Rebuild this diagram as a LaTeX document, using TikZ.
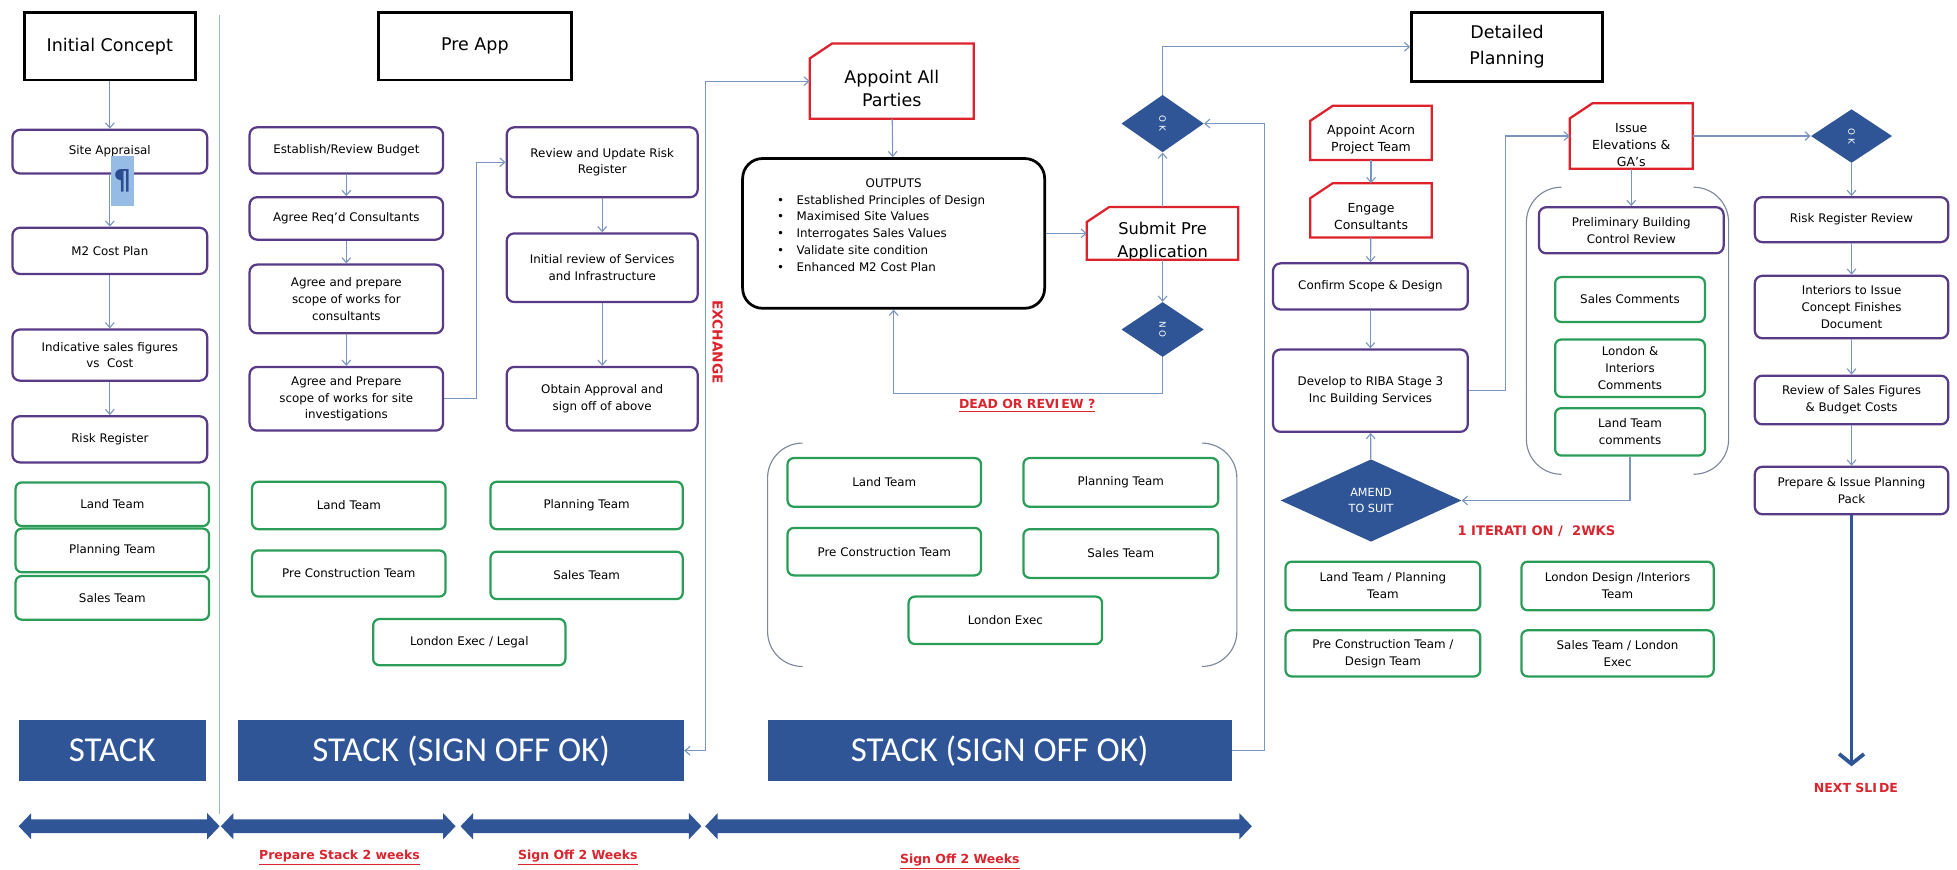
\documentclass[tikz,border=0pt]{standalone}
\usepackage{fontspec}
\setmainfont{DejaVu Sans}
\newfontfamily\stackfont{Carlito}
\usetikzlibrary{arrows.meta, shapes.geometric}

\definecolor{stackblue}{RGB}{47,85,151}
\definecolor{taskpurple}{RGB}{88,58,135}
\definecolor{teamgreen}{RGB}{42,158,88}
\definecolor{cardred}{RGB}{222,34,44}
\definecolor{linkblue}{RGB}{122,150,192}
\definecolor{notered}{RGB}{218,36,46}
\definecolor{bracketgray}{RGB}{125,135,155}
\definecolor{sepblue}{RGB}{150,180,222}
\definecolor{pilcrowbg}{RGB}{150,188,230}
\definecolor{pilcrowfg}{RGB}{45,75,145}

\newcommand{\smalltxt}{\fontsize{9.5}{13.5}\selectfont}
\newcommand{\cardframe}[1]{\draw[cardline] (#1.south west) -- ([yshift=-12pt]#1.north west) -- ([xshift=18pt]#1.north west) -- (#1.north east) -- (#1.south east) -- cycle;}
\newcommand{\spanarrow}[2]{\fill[stackblue] (#1,662) -- (#1+10,651.5) -- (#1+10,656.5) -- (#2-10,656.5) -- (#2-10,651.5) -- (#2,662) -- (#2-10,672.5) -- (#2-10,667.5) -- (#1+10,667.5) -- (#1+10,672.5) -- cycle;}
\newcommand{\teambracket}[4]{%
	\draw[bracket] (#1+28,#3) -- (#1,#3) -- (#1,#4) -- (#1+28,#4);
	\draw[bracket] (#2-28,#3) -- (#2,#3) -- (#2,#4) -- (#2-28,#4);}

\tikzset{
	>={Straight Barb[length=4pt,width=7pt]},
	flow/.style={->, draw=linkblue, line width=0.9pt},
	titlebox/.style={draw, line width=2.2pt, align=center, inner sep=0pt, font=\fontsize{14}{21}\selectfont},
	task/.style={draw=taskpurple, line width=1.8pt, rounded corners=6pt, align=center, inner sep=0pt, font=\smalltxt},
	team/.style={draw=teamgreen, line width=1.8pt, rounded corners=5pt, align=center, inner sep=0pt, font=\smalltxt},
	card/.style={inner sep=0pt},
	cardtext/.style={align=center, inner sep=0pt, font=\fontsize{10}{13.5}\selectfont},
	cardline/.style={draw=cardred, line width=1.8pt},
	stackbar/.style={fill=stackblue, text=white, inner sep=0pt, font=\stackfont\fontsize{28}{30}\selectfont},
	decision/.style={diamond, fill=stackblue, text=white, inner sep=0pt, font=\fontsize{7}{8}\selectfont},
	redlabel/.style={text=notered, inner sep=0pt, font=\bfseries\fontsize{10}{12}\selectfont},
	bracket/.style={draw=bracketgray, line width=0.9pt, rounded corners=28pt},
}

\begin{document}
\begin{tikzpicture}[x=1pt, y=-1pt]
	\useasboundingbox (0,0) rectangle (1568,697);

	% initial concept
	\node[titlebox, minimum width=137, minimum height=54] (initial) at (88,37) {Initial Concept};
	\node[task, minimum width=156, minimum height=35] (siteapp) at (88,121.5) {Site Appraisal};
	\node[task, minimum width=156, minimum height=37] (m2) at (88,201) {M2 Cost Plan};
	\node[task, minimum width=156, minimum height=41] (indic) at (88,284.5) {Indicative sales figures\\vs\ \ Cost};
	\node[task, minimum width=156, minimum height=37] (riskreg) at (88,352) {Risk Register};
	\node[team, minimum width=155, minimum height=35] (land1) at (90,404) {Land Team};
	\node[team, minimum width=155, minimum height=35] (plan1) at (90,441) {Planning Team};
	\node[team, minimum width=155, minimum height=35] (sales1) at (90,479) {Sales Team};
	\node[stackbar, minimum width=150, minimum height=49] (stack1) at (90,601.5) {STACK};

	\draw[flow]
	(initial) edge (siteapp)
	(siteapp) edge (m2)
	(m2) edge (indic)
	(indic) edge (riskreg)
	;
	\node[fill=pilcrowbg, text=pilcrowfg, inner sep=0pt, minimum width=18, minimum height=40, font=\bfseries\fontsize{22}{22}\selectfont] (pilcrow) at (98,145) {¶};

	\draw[sepblue, line width=1.2pt] (176,12) -- (176,652);

	% pre app
	\node[titlebox, minimum width=155, minimum height=54] (preapp) at (380.5,37) {Pre App};
	\node[task, minimum width=155, minimum height=37] (budget) at (277.5,120.5) {Establish/Review Budget};
	\node[task, minimum width=155, minimum height=34] (consult) at (277.5,175) {Agree Req'd Consultants};
	\node[task, minimum width=155, minimum height=55] (scope1) at (277.5,239.5) {Agree and prepare\\scope of works for\\consultants};
	\node[task, minimum width=155, minimum height=51] (scope2) at (277.5,319.5) {Agree and Prepare\\scope of works for site\\investigations};
	\node[task, minimum width=153, minimum height=56] (review) at (482.5,130) {Review and Update Risk\\Register};
	\node[task, minimum width=153, minimum height=55] (services) at (482.5,214.5) {Initial review of Services\\and Infrastructure};
	\node[task, minimum width=153, minimum height=51] (approval) at (482.5,319.5) {Obtain Approval and\\sign off of above};
	\node[team, minimum width=155, minimum height=38] (land2) at (279.5,405) {Land Team};
	\node[team, minimum width=154, minimum height=38] (plan2) at (470,405) {Planning Team};
	\node[team, minimum width=155, minimum height=37] (precon2) at (279.5,459.5) {Pre Construction Team};
	\node[team, minimum width=154, minimum height=38] (sales2) at (470,461) {Sales Team};
	\node[team, minimum width=154, minimum height=37] (legal2) at (376,514.5) {London Exec / Legal};
	\node[stackbar, minimum width=357, minimum height=49] (stack2) at (369.5,601.5) {STACK (SIGN OFF OK)};

	\draw[flow]
	(budget) edge (consult)
	(consult) edge (scope1)
	(scope1) edge (scope2)
	(review) edge (services)
	(services) edge (approval)
	;
	\draw[flow] (scope2.east) -- ++(26,0) |- (review.west);

	% appoint / outputs
	\node[card, minimum width=131, minimum height=60] (appoint) at (714.5,65) {};
	\node[cardtext, font=\fontsize{14}{18.5}\selectfont] (appointtxt) at (714.5,71) {Appoint All\\Parties};
	\cardframe{appoint}
	\node[draw, line width=2.2pt, rounded corners=16pt, minimum width=242, minimum height=120, inner sep=0pt, font=\fontsize{9.5}{13.4}\selectfont] (outputs) at (716,187)
	{\begin{tabular}{@{}l@{\hspace{10pt}}l@{\hspace{20pt}}}
		\multicolumn{2}{c}{OUTPUTS}\\
		• & Established Principles of Design\\
		• & Maximised Site Values\\
		• & Interrogates Sales Values\\
		• & Validate site condition\\
		• & Enhanced M2 Cost Plan\\[12pt]
	\end{tabular}};
	\node[card, minimum width=121, minimum height=42] (submit) at (931.5,187) {};
	\node[cardtext, font=\fontsize{13}{19}\selectfont] (submittxt) at (931.5,193.5) {Submit Pre\\Application};
	\cardframe{submit}
	\node[decision, minimum width=66, minimum height=46] (ok1) at (931.5,99) {\rotatebox{-90}{O\ K}};
	\node[decision, minimum width=66, minimum height=44] (no1) at (931.5,264) {\rotatebox{-90}{N\ O}};
	\node[redlabel, rotate=-90, font=\bfseries\fontsize{11}{12}\selectfont] (exchange) at (575,274) {EXCHANGE};
	\node[redlabel] (dead) at (823,325) {\underline{DEAD OR REVI\,EW ?}};

	\draw[flow, <->] (stack2.east) -- ++(17,0) |- (appoint.west);
	\draw[flow]
	(appoint) edge (outputs)
	(outputs) edge (submit)
	(submit) edge (ok1)
	(submit) edge (no1)
	;
	\draw[flow] (no1.south) -- ++(0,29) -| (outputs.south);

	\teambracket{615}{991}{355}{534}
	\node[team, minimum width=155, minimum height=39] (land3) at (708.5,386.5) {Land Team};
	\node[team, minimum width=156, minimum height=39] (plan3) at (898,386.5) {Planning Team};
	\node[team, minimum width=155, minimum height=38] (precon3) at (708.5,442) {Pre Construction Team};
	\node[team, minimum width=156, minimum height=39] (sales3) at (898,443.5) {Sales Team};
	\node[team, minimum width=155, minimum height=38] (exec3) at (805.5,497) {London Exec};
	\node[stackbar, minimum width=372, minimum height=49] (stack3) at (801,601.5) {STACK (SIGN OFF OK)};
	\draw[flow] (stack3.east) -- ++(26,0) |- (ok1.east);

	% detailed planning
	\node[titlebox, minimum width=153, minimum height=55] (detailed) at (1207.5,37.5) {Detailed\\Planning};
	\draw[flow] (ok1.north) |- (detailed.west);
	\node[card, minimum width=97, minimum height=43] (acorn) at (1098.5,106.5) {};
	\node[cardtext] (acorntxt) at (1098.5,112) {Appoint Acorn\\Project Team};
	\cardframe{acorn}
	\node[card, minimum width=97, minimum height=43] (engage) at (1098.5,168.5) {};
	\node[cardtext] (engagetxt) at (1098.5,173.5) {Engage\\Consultants};
	\cardframe{engage}
	\node[task, minimum width=156, minimum height=37] (confirm) at (1098,229.5) {Confirm Scope \& Design};
	\node[task, minimum width=156, minimum height=66] (develop) at (1098,313) {Develop to RIBA Stage 3\\Inc Building Services};
	\node[decision, minimum width=145, minimum height=66, align=center, font=\fontsize{9}{13}\selectfont] (amend) at (1098.5,401) {AMEND\\TO SUIT};
	\node[card, minimum width=98, minimum height=52] (issue) at (1307,109) {};
	\node[cardtext] (issuetxt) at (1307,116) {Issue\\Elevations \&\\GA's};
	\cardframe{issue}

	\teambracket{1223}{1385}{150}{380}
	\node[task, minimum width=148, minimum height=37] (prelim) at (1307,184.5) {Preliminary Building\\Control Review};
	\node[team, minimum width=120, minimum height=36] (salescom) at (1306,240) {Sales Comments};
	\node[team, minimum width=120, minimum height=46] (londoncom) at (1306,295) {London \&\\Interiors\\Comments};
	\node[team, minimum width=120, minimum height=38] (landcom) at (1306,346) {Land Team\\comments};
	\node[redlabel, font=\bfseries\fontsize{10.5}{12}\selectfont] (iteration) at (1231,426) {1 ITERATI ON /\ \ 2WKS};

	\node[team, minimum width=156, minimum height=39] (landplan) at (1108,469.5) {Land Team / Planning\\Team};
	\node[team, minimum width=154, minimum height=39] (designint) at (1296,469.5) {London Design /Interiors\\Team};
	\node[team, minimum width=156, minimum height=37] (precondesign) at (1108,523.5) {Pre Construction Team /\\Design Team};
	\node[team, minimum width=154, minimum height=37] (salesexec) at (1296,523.5) {Sales Team / London\\Exec};

	\draw[flow]
	(acorn) edge (engage)
	(engage) edge (confirm)
	(confirm) edge (develop)
	(amend) edge (develop)
	(issue) edge (prelim)
	;
	\draw[flow] (develop.east) -- ++(29,0) |- (issue.west);
	\draw[flow] (landcom.south) |- (amend.east);

	% sign off column
	\node[decision, minimum width=65, minimum height=43] (ok2) at (1483.5,109) {\rotatebox{-90}{O\ K}};
	\node[task, minimum width=155, minimum height=36] (riskrev) at (1483.5,176) {Risk Register Review};
	\node[task, minimum width=155, minimum height=50] (interiors) at (1483.5,246) {Interiors to Issue\\Concept Finishes\\Document};
	\node[task, minimum width=155, minimum height=39] (salesfig) at (1483.5,320.5) {Review of Sales Figures\\\& Budget Costs};
	\node[task, minimum width=155, minimum height=38] (pack) at (1483.5,393) {Prepare \& Issue Planning\\Pack};
	\coordinate (nextslide) at (1483.5,614);
	\node[redlabel] (nextlbl) at (1487,631) {NEXT SLI\,DE};

	\draw[flow] (issue.east) -- (ok2.west);
	\draw[flow]
	(ok2) edge (riskrev)
	(riskrev) edge (interiors)
	(interiors) edge (salesfig)
	(salesfig) edge (pack)
	;
	\draw[stackblue, line width=3pt, -{Straight Barb[length=8pt,width=20pt]}] (pack.south) -- (nextslide);

	% time line
	\spanarrow{15}{176}
	\spanarrow{177}{365}
	\spanarrow{369}{562}
	\spanarrow{565}{1003}
	\node[redlabel] (prepstack) at (272,687) {\underline{Prepare Stack 2 weeks}};
	\node[redlabel] (signoff1) at (463,687) {\underline{Sign Off 2 Weeks}};
	\node[redlabel] (signoff2) at (769,690) {\underline{Sign Off 2 Weeks}};
\end{tikzpicture}
\end{document}
